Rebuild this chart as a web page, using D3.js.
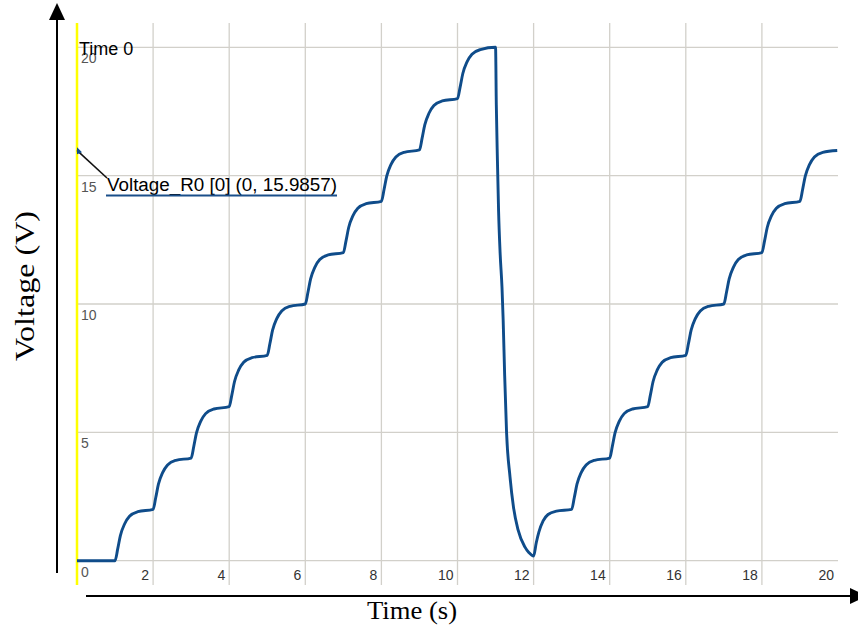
<!DOCTYPE html>
<html>
<head>
<meta charset="utf-8">
<script src="https://cdn.jsdelivr.net/npm/d3@7"></script>
<style>
body{margin:0;background:#fff;}
svg{display:block;}
</style>
</head>
<body>
<svg id="chart" width="858" height="632"></svg>
<script>
// values
var time = [0, 1, 1.07, 1.14, 1.25, 1.38, 1.6,
	2, 2.07, 2.14, 2.25, 2.38, 2.6,
	3, 3.07, 3.14, 3.25, 3.38, 3.6,
	4, 4.07, 4.14, 4.25, 4.38, 4.6,
	5, 5.07, 5.14, 5.25, 5.38, 5.6,
	6, 6.07, 6.14, 6.25, 6.38, 6.6,
	7, 7.07, 7.14, 7.25, 7.38, 7.6,
	8, 8.07, 8.14, 8.25, 8.38, 8.6,
	9, 9.07, 9.14, 9.25, 9.38, 9.6,
	10, 10.07, 10.14, 10.25, 10.38, 10.6,
	11, 11.02, 11.05, 11.08, 11.12, 11.17, 11.2, 11.24, 11.29, 11.38, 11.47, 11.59, 11.77, 11.88, 12,
	12.07, 12.14, 12.25, 12.38, 12.6,
	13, 13.07, 13.14, 13.25, 13.38, 13.6,
	14, 14.07, 14.14, 14.25, 14.38, 14.6,
	15, 15.07, 15.14, 15.25, 15.38, 15.6,
	16, 16.07, 16.14, 16.25, 16.38, 16.6,
	17, 17.07, 17.14, 17.25, 17.38, 17.6,
	18, 18.07, 18.14, 18.25, 18.38, 18.6,
	19, 19.07, 19.14, 19.25, 19.38, 19.6, 19.98];

var voltage = [0, 0, 0.46, 0.98, 1.43, 1.73, 1.91,
	2, 2.46, 2.98, 3.43, 3.73, 3.91,
	4, 4.46, 4.98, 5.43, 5.73, 5.91,
	6, 6.46, 6.98, 7.43, 7.73, 7.91,
	8, 8.46, 8.98, 9.43, 9.73, 9.91,
	10, 10.46, 10.98, 11.43, 11.73, 11.91,
	12, 12.46, 12.98, 13.43, 13.73, 13.91,
	14, 14.46, 14.98, 15.43, 15.73, 15.91,
	16, 16.46, 16.98, 17.43, 17.73, 17.91,
	18, 18.46, 18.98, 19.43, 19.73, 19.91,
	20, 17.76, 15.55, 13.6, 11.99, 10.63, 9.38, 7.2, 4.98, 3.27, 2.1, 1.21, 0.54, 0.31, 0.18,
	0.7, 1.12, 1.55, 1.8, 1.93,
	2, 2.46, 2.98, 3.43, 3.73, 3.91,
	4, 4.46, 4.98, 5.43, 5.73, 5.91,
	6, 6.46, 6.98, 7.43, 7.73, 7.91,
	8, 8.46, 8.98, 9.43, 9.73, 9.91,
	10, 10.46, 10.98, 11.43, 11.73, 11.91,
	12, 12.46, 12.98, 13.43, 13.73, 13.91,
	14, 14.46, 14.98, 15.43, 15.73, 15.91, 15.98];

var xTicks = [2, 4, 6, 8, 10, 12, 14, 16, 18, 20];
var yTicks = [0, 5, 10, 15, 20];
var cursor = {label: "Voltage_R0 [0] (0, 15.9857)", t: 0, v: 15.9857};

window.addEventListener("load", makeChart);

function makeChart(){
	var svg = d3.select("#chart");
	var x = d3.scaleLinear().domain([0, 20]).range([77, 838]);
	var y = d3.scaleLinear().domain([0, 20]).range([560.7, 47.3]);
	var font = "'Liberation Sans', Arial, sans-serif";
	var serif = "'Liberation Serif', 'Times New Roman', serif";

	// grid
	svg.selectAll("line.vg").data(xTicks.filter(d=>d<20)).enter()
	.append("line").attr("class","vg")
	.attr("x1",d=>x(d)).attr("x2",d=>x(d))
	.attr("y1",23).attr("y2",585)
	.attr("stroke","#d2d0ca").attr("stroke-width",1.3);
	svg.selectAll("line.hg").data(yTicks).enter()
	.append("line").attr("class","hg")
	.attr("x1",x(0)).attr("x2",x(20))
	.attr("y1",d=>y(d)).attr("y2",d=>y(d))
	.attr("stroke","#d2d0ca").attr("stroke-width",1.3);

	// time 0 cursor
	svg.append("line").attr("x1",x(0)).attr("x2",x(0)).attr("y1",23).attr("y2",585)
	.attr("stroke","#ffff00").attr("stroke-width",2.5);

	// tick labels
	svg.selectAll("text.xl").data(xTicks).enter()
	.append("text").attr("class","xl")
	.attr("x",d=>x(d)-4).attr("y",580)
	.attr("text-anchor","end")
	.attr("font-family",font).attr("font-size",14).attr("fill","#333")
	.text(d=>d);
	svg.selectAll("text.yl").data(yTicks).enter()
	.append("text").attr("class","yl")
	.attr("x",x(0)+4).attr("y",d=>y(d)+16)
	.attr("font-family",font).attr("font-size",14).attr("fill","#555")
	.text(d=>d);

	// curve
	var line = d3.line().x(d=>x(d[0])).y(d=>y(d[1])).curve(d3.curveMonotoneX);
	svg.append("path").datum(d3.zip(time, voltage))
	.attr("d",line).attr("fill","none")
	.attr("stroke","#0f4c8a").attr("stroke-width",2.9)
	.attr("stroke-linejoin","round");

	// annotations
	svg.append("text").attr("x",x(0)+2).attr("y",55)
	.attr("font-family",font).attr("font-size",18).attr("fill","#000")
	.text("Time 0");
	svg.append("line")
	.attr("x1",x(cursor.t)).attr("y1",y(cursor.v))
	.attr("x2",107).attr("y2",178)
	.attr("stroke","#111").attr("stroke-width",1.6);
	svg.append("path")
	.attr("d","M"+x(cursor.t)+","+y(cursor.v)+"l0,-3l5,5l-5,2z")
	.attr("fill","#0f4c8a");
	svg.append("text").attr("x",107).attr("y",191)
	.attr("font-family",font).attr("font-size",18).attr("fill","#000")
	.attr("textLength",230).attr("lengthAdjust","spacingAndGlyphs")
	.text(cursor.label);
	svg.append("line").attr("x1",106).attr("x2",337).attr("y1",195.5).attr("y2",195.5)
	.attr("stroke","#1a4f8a").attr("stroke-width",2.2);

	// arrows
	svg.append("line").attr("x1",57).attr("x2",57).attr("y1",573).attr("y2",18)
	.attr("stroke","#000").attr("stroke-width",2);
	svg.append("path").attr("d","M57,3L49,20L65,20Z").attr("fill","#000");
	svg.append("line").attr("x1",86).attr("x2",852).attr("y1",596).attr("y2",596)
	.attr("stroke","#000").attr("stroke-width",2);
	svg.append("path").attr("d","M867,596L850,588L850,604Z").attr("fill","#000");

	// axis titles
	svg.append("text").attr("transform","translate(34,286) rotate(-90)")
	.attr("text-anchor","middle")
	.attr("font-family",serif).attr("font-size",28)
	.attr("textLength",150).attr("lengthAdjust","spacingAndGlyphs")
	.text("Voltage (V)");
	svg.append("text").attr("x",412).attr("y",619)
	.attr("text-anchor","middle")
	.attr("font-family",serif).attr("font-size",26)
	.attr("textLength",90).attr("lengthAdjust","spacingAndGlyphs")
	.text("Time (s)");
}
</script>
</body>
</html>
